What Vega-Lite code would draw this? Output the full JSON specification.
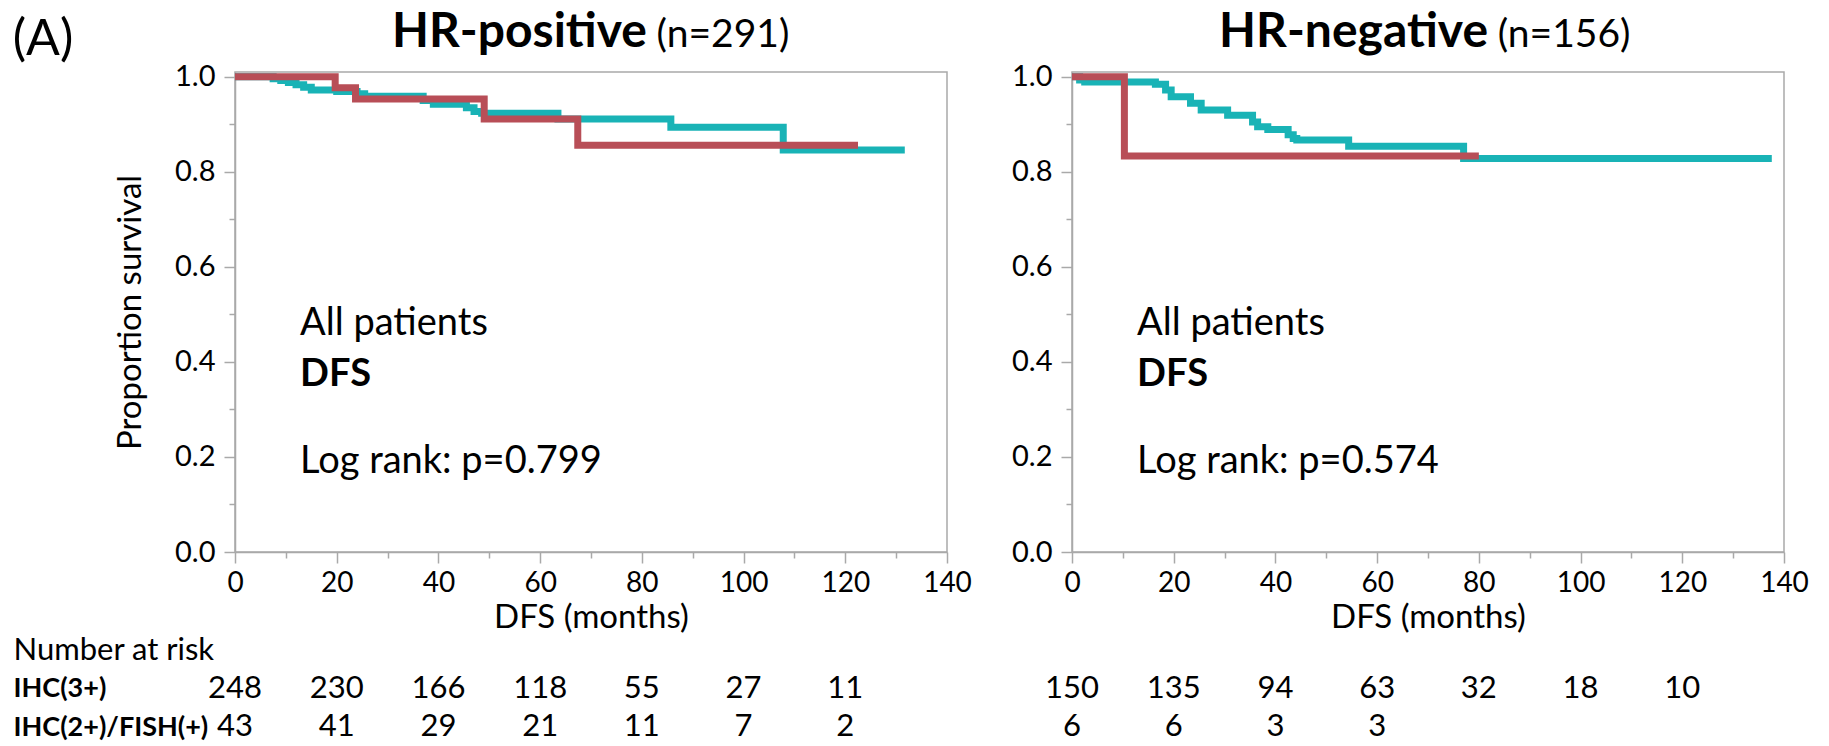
{
  "$schema": "https://vega.github.io/schema/vega-lite/v6.json",
  "padding": {"left": 12, "top": 8, "right": 10, "bottom": 2},
  "background": "white",
  "config": {
    "font": "Lato",
    "view": {"stroke": "#a9a9a9", "strokeWidth": 1.5},
    "text": {"font": "Lato", "color": "black"},
    "axis": {
      "domainColor": "#a9a9a9", "tickColor": "#a9a9a9", "domainWidth": 1.5, "tickWidth": 1.5,
      "labelColor": "black", "titleColor": "black", "labelFont": "Lato", "titleFont": "Lato",
      "grid": false, "titleFontWeight": "normal", "labelOverlap": false
    }
  },
  "datasets": {
    "km": [
      {"panel": "HR-positive", "group": "IHC(3+)", "month": 0, "surv": 1.0},
      {"panel": "HR-positive", "group": "IHC(3+)", "month": 7.5, "surv": 0.996},
      {"panel": "HR-positive", "group": "IHC(3+)", "month": 9, "surv": 0.992},
      {"panel": "HR-positive", "group": "IHC(3+)", "month": 10.5, "surv": 0.988},
      {"panel": "HR-positive", "group": "IHC(3+)", "month": 12, "surv": 0.983},
      {"panel": "HR-positive", "group": "IHC(3+)", "month": 13.5, "surv": 0.978},
      {"panel": "HR-positive", "group": "IHC(3+)", "month": 15, "surv": 0.972},
      {"panel": "HR-positive", "group": "IHC(3+)", "month": 20, "surv": 0.969},
      {"panel": "HR-positive", "group": "IHC(3+)", "month": 24, "surv": 0.964},
      {"panel": "HR-positive", "group": "IHC(3+)", "month": 25.5, "surv": 0.959},
      {"panel": "HR-positive", "group": "IHC(3+)", "month": 37, "surv": 0.950},
      {"panel": "HR-positive", "group": "IHC(3+)", "month": 39, "surv": 0.942},
      {"panel": "HR-positive", "group": "IHC(3+)", "month": 45.5, "surv": 0.935},
      {"panel": "HR-positive", "group": "IHC(3+)", "month": 47, "surv": 0.927},
      {"panel": "HR-positive", "group": "IHC(3+)", "month": 48.5, "surv": 0.923},
      {"panel": "HR-positive", "group": "IHC(3+)", "month": 63.5, "surv": 0.911},
      {"panel": "HR-positive", "group": "IHC(3+)", "month": 85.7, "surv": 0.894},
      {"panel": "HR-positive", "group": "IHC(3+)", "month": 107.8, "surv": 0.846},
      {"panel": "HR-positive", "group": "IHC(3+)", "month": 131.7, "surv": 0.846},
      {"panel": "HR-positive", "group": "IHC(2+)/FISH(+)", "month": 0, "surv": 1.0},
      {"panel": "HR-positive", "group": "IHC(2+)/FISH(+)", "month": 19.7, "surv": 0.977},
      {"panel": "HR-positive", "group": "IHC(2+)/FISH(+)", "month": 23.7, "surv": 0.953},
      {"panel": "HR-positive", "group": "IHC(2+)/FISH(+)", "month": 49.0, "surv": 0.911},
      {"panel": "HR-positive", "group": "IHC(2+)/FISH(+)", "month": 67.4, "surv": 0.856},
      {"panel": "HR-positive", "group": "IHC(2+)/FISH(+)", "month": 122.5, "surv": 0.856},
      {"panel": "HR-negative", "group": "IHC(3+)", "month": 0, "surv": 1.0},
      {"panel": "HR-negative", "group": "IHC(3+)", "month": 1.5, "surv": 0.993},
      {"panel": "HR-negative", "group": "IHC(3+)", "month": 2.5, "surv": 0.989},
      {"panel": "HR-negative", "group": "IHC(3+)", "month": 16.4, "surv": 0.984},
      {"panel": "HR-negative", "group": "IHC(3+)", "month": 18.4, "surv": 0.972},
      {"panel": "HR-negative", "group": "IHC(3+)", "month": 19.5, "surv": 0.958},
      {"panel": "HR-negative", "group": "IHC(3+)", "month": 23.3, "surv": 0.944},
      {"panel": "HR-negative", "group": "IHC(3+)", "month": 25.4, "surv": 0.930},
      {"panel": "HR-negative", "group": "IHC(3+)", "month": 30.6, "surv": 0.919},
      {"panel": "HR-negative", "group": "IHC(3+)", "month": 35.5, "surv": 0.905},
      {"panel": "HR-negative", "group": "IHC(3+)", "month": 36.5, "surv": 0.895},
      {"panel": "HR-negative", "group": "IHC(3+)", "month": 38.5, "surv": 0.889},
      {"panel": "HR-negative", "group": "IHC(3+)", "month": 42.5, "surv": 0.878},
      {"panel": "HR-negative", "group": "IHC(3+)", "month": 43.5, "surv": 0.870},
      {"panel": "HR-negative", "group": "IHC(3+)", "month": 44.2, "surv": 0.867},
      {"panel": "HR-negative", "group": "IHC(3+)", "month": 54.4, "surv": 0.854},
      {"panel": "HR-negative", "group": "IHC(3+)", "month": 77.0, "surv": 0.828},
      {"panel": "HR-negative", "group": "IHC(3+)", "month": 137.6, "surv": 0.828},
      {"panel": "HR-negative", "group": "IHC(2+)/FISH(+)", "month": 0, "surv": 1.0},
      {"panel": "HR-negative", "group": "IHC(2+)/FISH(+)", "month": 10.3, "surv": 0.833},
      {"panel": "HR-negative", "group": "IHC(2+)/FISH(+)", "month": 80.0, "surv": 0.833}
    ],
    "risk": [
      {"panel": "HR-positive", "group": "IHC(3+)", "month": 0, "n": 248},
      {"panel": "HR-positive", "group": "IHC(3+)", "month": 20, "n": 230},
      {"panel": "HR-positive", "group": "IHC(3+)", "month": 40, "n": 166},
      {"panel": "HR-positive", "group": "IHC(3+)", "month": 60, "n": 118},
      {"panel": "HR-positive", "group": "IHC(3+)", "month": 80, "n": 55},
      {"panel": "HR-positive", "group": "IHC(3+)", "month": 100, "n": 27},
      {"panel": "HR-positive", "group": "IHC(3+)", "month": 120, "n": 11},
      {"panel": "HR-positive", "group": "IHC(2+)/FISH(+)", "month": 0, "n": 43},
      {"panel": "HR-positive", "group": "IHC(2+)/FISH(+)", "month": 20, "n": 41},
      {"panel": "HR-positive", "group": "IHC(2+)/FISH(+)", "month": 40, "n": 29},
      {"panel": "HR-positive", "group": "IHC(2+)/FISH(+)", "month": 60, "n": 21},
      {"panel": "HR-positive", "group": "IHC(2+)/FISH(+)", "month": 80, "n": 11},
      {"panel": "HR-positive", "group": "IHC(2+)/FISH(+)", "month": 100, "n": 7},
      {"panel": "HR-positive", "group": "IHC(2+)/FISH(+)", "month": 120, "n": 2},
      {"panel": "HR-negative", "group": "IHC(3+)", "month": 0, "n": 150},
      {"panel": "HR-negative", "group": "IHC(3+)", "month": 20, "n": 135},
      {"panel": "HR-negative", "group": "IHC(3+)", "month": 40, "n": 94},
      {"panel": "HR-negative", "group": "IHC(3+)", "month": 60, "n": 63},
      {"panel": "HR-negative", "group": "IHC(3+)", "month": 80, "n": 32},
      {"panel": "HR-negative", "group": "IHC(3+)", "month": 100, "n": 18},
      {"panel": "HR-negative", "group": "IHC(3+)", "month": 120, "n": 10},
      {"panel": "HR-negative", "group": "IHC(2+)/FISH(+)", "month": 0, "n": 6},
      {"panel": "HR-negative", "group": "IHC(2+)/FISH(+)", "month": 20, "n": 6},
      {"panel": "HR-negative", "group": "IHC(2+)/FISH(+)", "month": 40, "n": 3},
      {"panel": "HR-negative", "group": "IHC(2+)/FISH(+)", "month": 60, "n": 3}
    ]
  },
  "columns": 2,
  "bounds": "flush",
  "align": "all",
  "spacing": {"row": 78.75, "column": 125},
  "concat": [
    {
      "width": 712, "height": 480,
      "layer": [
        {
          "data": {"name": "km"},
          "transform": [{"filter": "datum.panel === 'HR-positive'"}],
          "mark": {"type": "line", "interpolate": "step-after", "strokeWidth": 7},
          "encoding": {
            "x": {"field": "month", "type": "quantitative", "scale": {"domain": [0, 140], "nice": false},
              "axis": {"values": [0,10,20,30,40,50,60,70,80,90,100,110,120,130,140],
                "labelExpr": "datum.value % 20 === 0 ? datum.label : ''",
                "tickSize": {"condition": {"test": "datum.value % 20 === 0", "value": 11}, "value": 6},
                "labelFontSize": 28, "labelPadding": 6, "labelFlush": false,
                "title": "DFS (months)", "titleFontSize": 33, "titlePadding": 4}},
            "y": {"field": "surv", "type": "quantitative", "scale": {"domain": [0, 1.01], "nice": false, "zero": false},
              "axis": {"values": [0,0.1,0.2,0.3,0.4,0.5,0.6,0.7,0.8,0.9,1.0],
                "labelExpr": "round(datum.value*10) % 2 === 0 ? format(datum.value, '.1f') : ''",
                "tickSize": {"condition": {"test": "round(datum.value*10) % 2 === 0", "value": 11}, "value": 6},
                "labelFontSize": 29, "labelPadding": 9,
                "title": "Proportion survival", "titleFontSize": 33, "titlePadding": 27}},
            "color": {"field": "group", "type": "nominal",
              "scale": {"domain": ["IHC(3+)", "IHC(2+)/FISH(+)"], "range": ["#19B3B6", "#B84E57"]},
              "legend": null}
          }
        },
        {"data": {"values": [{}]}, "mark": {"type": "text", "text": "All patients", "align": "left", "baseline": "alphabetic", "fontSize": 38},
          "encoding": {"x": {"datum": 12.8}, "y": {"datum": 0.457}}},
        {"data": {"values": [{}]}, "mark": {"type": "text", "text": "DFS", "align": "left", "baseline": "alphabetic", "fontSize": 38, "fontWeight": "bold"},
          "encoding": {"x": {"datum": 12.8}, "y": {"datum": 0.35}}},
        {"data": {"values": [{}]}, "mark": {"type": "text", "text": "Log rank: p=0.799", "align": "left", "baseline": "alphabetic", "fontSize": 38},
          "encoding": {"x": {"datum": 12.8}, "y": {"datum": 0.166}}},
        {"data": {"values": [{}]}, "mark": {"type": "text", "text": "HR-positive", "align": "right", "baseline": "alphabetic", "fontSize": 48, "fontWeight": "bold"},
          "encoding": {"x": {"datum": 81.0}, "y": {"datum": 1.062}}},
        {"data": {"values": [{}]}, "mark": {"type": "text", "text": "(n=291)", "align": "left", "baseline": "alphabetic", "fontSize": 39},
          "encoding": {"x": {"datum": 82.9}, "y": {"datum": 1.062}}},
        {"data": {"values": [{}]}, "mark": {"type": "text", "text": "(A)", "align": "left", "baseline": "alphabetic", "fontSize": 50},
          "encoding": {"x": {"datum": -43.7}, "y": {"datum": 1.046}}}
      ]
    },
    {
      "width": 712, "height": 480,
      "layer": [
        {
          "data": {"name": "km"},
          "transform": [{"filter": "datum.panel === 'HR-negative'"}],
          "mark": {"type": "line", "interpolate": "step-after", "strokeWidth": 7},
          "encoding": {
            "x": {"field": "month", "type": "quantitative", "scale": {"domain": [0, 140], "nice": false},
              "axis": {"values": [0,10,20,30,40,50,60,70,80,90,100,110,120,130,140],
                "labelExpr": "datum.value % 20 === 0 ? datum.label : ''",
                "tickSize": {"condition": {"test": "datum.value % 20 === 0", "value": 11}, "value": 6},
                "labelFontSize": 28, "labelPadding": 6, "labelFlush": false,
                "title": "DFS (months)", "titleFontSize": 33, "titlePadding": 4}},
            "y": {"field": "surv", "type": "quantitative", "scale": {"domain": [0, 1.01], "nice": false, "zero": false},
              "axis": {"values": [0,0.1,0.2,0.3,0.4,0.5,0.6,0.7,0.8,0.9,1.0],
                "labelExpr": "round(datum.value*10) % 2 === 0 ? format(datum.value, '.1f') : ''",
                "tickSize": {"condition": {"test": "round(datum.value*10) % 2 === 0", "value": 11}, "value": 6},
                "labelFontSize": 29, "labelPadding": 9, "title": null}},
            "color": {"field": "group", "type": "nominal",
              "scale": {"domain": ["IHC(3+)", "IHC(2+)/FISH(+)"], "range": ["#19B3B6", "#B84E57"]},
              "legend": null}
          }
        },
        {"data": {"values": [{}]}, "mark": {"type": "text", "text": "All patients", "align": "left", "baseline": "alphabetic", "fontSize": 38},
          "encoding": {"x": {"datum": 12.8}, "y": {"datum": 0.457}}},
        {"data": {"values": [{}]}, "mark": {"type": "text", "text": "DFS", "align": "left", "baseline": "alphabetic", "fontSize": 38, "fontWeight": "bold"},
          "encoding": {"x": {"datum": 12.8}, "y": {"datum": 0.35}}},
        {"data": {"values": [{}]}, "mark": {"type": "text", "text": "Log rank: p=0.574", "align": "left", "baseline": "alphabetic", "fontSize": 38},
          "encoding": {"x": {"datum": 12.8}, "y": {"datum": 0.166}}},
        {"data": {"values": [{}]}, "mark": {"type": "text", "text": "HR-negative", "align": "right", "baseline": "alphabetic", "fontSize": 48, "fontWeight": "bold"},
          "encoding": {"x": {"datum": 81.8}, "y": {"datum": 1.062}}},
        {"data": {"values": [{}]}, "mark": {"type": "text", "text": "(n=156)", "align": "left", "baseline": "alphabetic", "fontSize": 39},
          "encoding": {"x": {"datum": 83.7}, "y": {"datum": 1.062}}}
      ]
    },
    {
      "width": 712, "height": 115.5,
      "view": {"stroke": null},
      "data": {"name": "risk"},
      "transform": [{"filter": "datum.panel === 'HR-positive'"}],
      "mark": {"type": "text", "fontSize": 31, "baseline": "middle", "align": "center"},
      "encoding": {
        "x": {"field": "month", "type": "quantitative", "scale": {"domain": [0, 140], "nice": false}, "axis": null},
        "y": {"field": "group", "type": "ordinal",
          "scale": {"type": "point", "domain": ["Number at risk", "IHC(3+)", "IHC(2+)/FISH(+)"], "padding": 0.5},
          "axis": {"domain": false, "ticks": false, "title": null, "labelAlign": "left", "labelBaseline": "middle",
            "labelPadding": 222, "labelLimit": 0,
            "labelFontSize": {"condition": {"test": "datum.value === 'Number at risk'", "value": 31}, "value": 27},
            "labelFontWeight": {"condition": {"test": "datum.value === 'Number at risk'", "value": "normal"}, "value": "bold"}}},
        "text": {"field": "n", "type": "quantitative"}
      }
    },
    {
      "width": 712, "height": 115.5,
      "view": {"stroke": null},
      "data": {"name": "risk"},
      "transform": [{"filter": "datum.panel === 'HR-negative'"}],
      "mark": {"type": "text", "fontSize": 31, "baseline": "middle", "align": "center"},
      "encoding": {
        "x": {"field": "month", "type": "quantitative", "scale": {"domain": [0, 140], "nice": false}, "axis": null},
        "y": {"field": "group", "type": "ordinal",
          "scale": {"type": "point", "domain": ["Number at risk", "IHC(3+)", "IHC(2+)/FISH(+)"], "padding": 0.5},
          "axis": null},
        "text": {"field": "n", "type": "quantitative"}
      }
    }
  ]
}
